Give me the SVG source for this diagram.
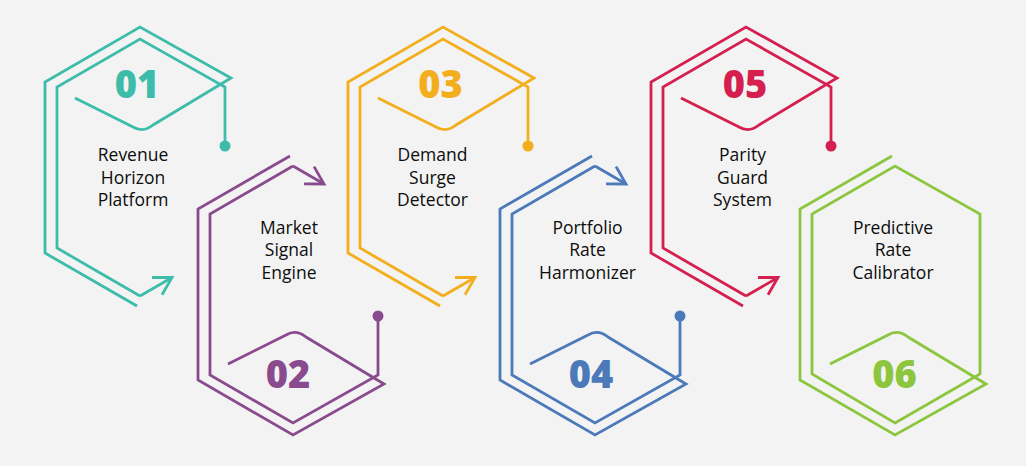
<svg xmlns="http://www.w3.org/2000/svg" xmlns:xlink="http://www.w3.org/1999/xlink" width="1026" height="466" viewBox="0 0 1026 466">
<style>
.ln{fill:none;stroke-width:2.8;stroke-linejoin:miter;stroke-linecap:butt}
.num{font-family:"Open Sans","Liberation Sans",sans-serif;font-weight:800;font-size:38px;text-anchor:middle}
.lbl{font-family:"Open Sans","Liberation Sans",sans-serif;font-weight:500;font-size:17.5px;fill:#0d0d0d;text-anchor:middle}
.c1{stroke:#3dbcaa;fill:#3dbcaa}
.c2{stroke:#8a4b8e;fill:#8a4b8e}
.c3{stroke:#f2ae1c;fill:#f2ae1c}
.c4{stroke:#4c79b9;fill:#4c79b9}
.c5{stroke:#d41f4f;fill:#d41f4f}
.c6{stroke:#8cc63e;fill:#8cc63e}
</style>
<defs>
<g id="hexOpen">
<path class="ln" d="M137,306 L45,253 L45,82 L140,27 L231,78 L153,125 Q143,133 133,127 L75,98"/>
<path class="ln" d="M225,146 L225,87 L140,39 L57,87 L57,248 L140,296"/>
<circle cx="225" cy="146" r="5.5" stroke="none"/>
</g>
<g id="hexClosed">
<path class="ln" d="M137,306 L45,253 L45,82 L140,27 L231,78 L153,125 Q143,133 133,127 L75,98"/>
<path class="ln" d="M140,39 L225,88 L225,248 L140,296 L57,248 L57,88 Z"/>
</g>
<marker id="ah1" markerUnits="userSpaceOnUse" viewBox="-2 -2 24 28" refX="20" refY="12" markerWidth="24" markerHeight="28" orient="auto" overflow="visible"><path d="M2.7,2 L20,12 L2.7,22" fill="none" stroke="#3dbcaa" stroke-width="2.8"/></marker>
<marker id="ah2" markerUnits="userSpaceOnUse" viewBox="-2 -2 24 28" refX="20" refY="12" markerWidth="24" markerHeight="28" orient="auto" overflow="visible"><path d="M2.7,2 L20,12 L2.7,22" fill="none" stroke="#8a4b8e" stroke-width="2.8"/></marker>
<marker id="ah3" markerUnits="userSpaceOnUse" viewBox="-2 -2 24 28" refX="20" refY="12" markerWidth="24" markerHeight="28" orient="auto" overflow="visible"><path d="M2.7,2 L20,12 L2.7,22" fill="none" stroke="#f2ae1c" stroke-width="2.8"/></marker>
<marker id="ah4" markerUnits="userSpaceOnUse" viewBox="-2 -2 24 28" refX="20" refY="12" markerWidth="24" markerHeight="28" orient="auto" overflow="visible"><path d="M2.7,2 L20,12 L2.7,22" fill="none" stroke="#4c79b9" stroke-width="2.8"/></marker>
<marker id="ah5" markerUnits="userSpaceOnUse" viewBox="-2 -2 24 28" refX="20" refY="12" markerWidth="24" markerHeight="28" orient="auto" overflow="visible"><path d="M2.7,2 L20,12 L2.7,22" fill="none" stroke="#d41f4f" stroke-width="2.8"/></marker>
</defs>
<rect width="1026" height="466" fill="#f3f3f3"/>

<g id="node1">
<use xlink:href="#hexOpen" href="#hexOpen" class="c1"/>
<text class="num" x="137" y="98" style="fill:#3dbcaa">01</text>
<text class="lbl" x="133" y="161">Revenue</text>
<text class="lbl" x="133" y="183.5">Horizon</text>
<text class="lbl" x="133" y="206">Platform</text>
</g>

<g id="node2">
<use xlink:href="#hexOpen" href="#hexOpen" class="c2" transform="translate(153,462) scale(1,-1)"/>
<text class="num" x="288" y="388" style="fill:#8a4b8e">02</text>
<text class="lbl" x="289" y="233.5">Market</text>
<text class="lbl" x="289" y="256">Signal</text>
<text class="lbl" x="289" y="278.5">Engine</text>
</g>

<g id="node3">
<use xlink:href="#hexOpen" href="#hexOpen" class="c3" transform="translate(303,0)"/>
<text class="num" x="440.5" y="98" style="fill:#f2ae1c">03</text>
<text class="lbl" x="432.5" y="161">Demand</text>
<text class="lbl" x="432.5" y="183.5">Surge</text>
<text class="lbl" x="432.5" y="206">Detector</text>
</g>

<g id="node4">
<use xlink:href="#hexOpen" href="#hexOpen" class="c4" transform="translate(455,462) scale(1,-1)"/>
<text class="num" x="591" y="388" style="fill:#4c79b9">04</text>
<text class="lbl" x="587.5" y="233.5">Portfolio</text>
<text class="lbl" x="587.5" y="256">Rate</text>
<text class="lbl" x="587.5" y="278.5">Harmonizer</text>
</g>

<g id="node5">
<use xlink:href="#hexOpen" href="#hexOpen" class="c5" transform="translate(606,0)"/>
<text class="num" x="745" y="98" style="fill:#d41f4f">05</text>
<text class="lbl" x="742.5" y="161">Parity</text>
<text class="lbl" x="742.5" y="183.5">Guard</text>
<text class="lbl" x="742.5" y="206">System</text>
</g>

<g id="node6">
<use xlink:href="#hexClosed" href="#hexClosed" class="c6" transform="translate(755,462) scale(1,-1)"/>
<text class="num" x="894.5" y="388" style="fill:#8cc63e">06</text>
<text class="lbl" x="893" y="233.5">Predictive</text>
<text class="lbl" x="893" y="256">Rate</text>
<text class="lbl" x="893" y="278.5">Calibrator</text>
</g>

<g id="connectors" fill="none" stroke-width="2.8">
<path d="M140,296 L172,277.5" stroke="#3dbcaa" marker-end="url(#ah1)"/>
<path d="M293,166 L324,184" stroke="#8a4b8e" marker-end="url(#ah2)"/>
<path d="M443,296 L475,277.5" stroke="#f2ae1c" marker-end="url(#ah3)"/>
<path d="M595,166 L626,184" stroke="#4c79b9" marker-end="url(#ah4)"/>
<path d="M746,296 L778,277.5" stroke="#d41f4f" marker-end="url(#ah5)"/>
</g>
</svg>
